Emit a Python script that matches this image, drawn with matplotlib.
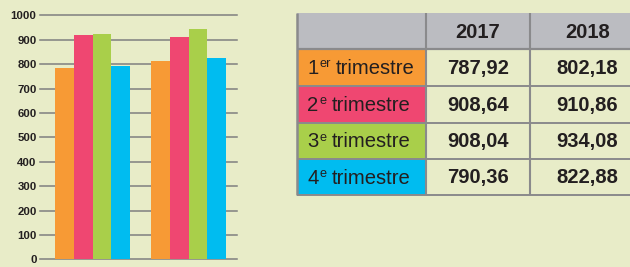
import matplotlib
matplotlib.use("Agg")
import matplotlib.pyplot as plt
from matplotlib.patches import Rectangle
import numpy as np

# ---- data ----
years = ['2017', '2018']
quarter_num = ['1', '2', '3', '4']
quarter_sup = ['er', 'e', 'e', 'e']
quarter_word = 'trimestre'
bars_2017 = [784, 919, 923, 792]
bars_2018 = [813, 911, 944, 825]
table_2017 = ['787,92', '908,64', '908,04', '790,36']
table_2018 = ['802,18', '910,86', '934,08', '822,88']
yticks = [0, 100, 200, 300, 400, 500, 600, 700, 800, 900, 1000]
colors = ['#f79a35', '#ef4771', '#a9cf4a', '#00bcf0']

BG = '#e8ecc8'
GRID = '#7f7f80'
TXT = '#231f20'
W, H = 630, 267

plt.rcParams['font.family'] = ['Liberation Sans', 'DejaVu Sans']
fig = plt.figure(figsize=(W / 100, H / 100), dpi=100, facecolor=BG)

# ---- bar chart ----
x0, x1 = 40, 237
ytop, ybot = 15.3, 259.3
ax = fig.add_axes([x0 / W, 1 - ybot / H, (x1 - x0) / W, (ybot - ytop) / H])
ax.set_facecolor(BG)
ax.set_xlim((x0 - 92.5) / 96, (x1 - 92.5) / 96)
ax.set_ylim(0, 1000)
for s in ax.spines.values():
    s.set_visible(False)
for t in yticks:
    ax.axhline(t, color=GRID, lw=1.1, zorder=1, clip_on=False)
groups = np.arange(len(years))
bw = 0.195
series = np.array([bars_2017, bars_2018])
for i in range(len(quarter_num)):
    ax.bar(groups + (i - 1.5) * bw, series[:, i], width=bw, color=colors[i],
           zorder=2, linewidth=0)
ax.set_xticks([])
ax.set_yticks(yticks)
ax.set_yticklabels([str(t) for t in yticks], fontsize=8.2, fontweight='bold', color=TXT)
ax.tick_params(axis='y', length=0, pad=2.5)

# ---- table ----
tx = fig.add_axes([0, 0, 1, 1])
tx.set_xlim(0, W)
tx.set_ylim(H, 0)
tx.axis('off')
tx.patch.set_alpha(0)

cols = [297, 426, 530, 645]
rows = [13.3, 48.7, 86, 122.5, 159, 195]
BORDER = '#8a8a8c'
HEAD = '#bbbcc1'

for c in range(3):
    tx.add_patch(Rectangle((cols[c], rows[0]), cols[c + 1] - cols[c], rows[1] - rows[0],
                           facecolor=HEAD, edgecolor='none'))
for c, y in enumerate(years):
    tx.text((cols[c + 1] + cols[c + 2]) / 2, (rows[0] + rows[1]) / 2 + 1, y,
            ha='center', va='center', fontsize=14.5, fontweight='bold', color=TXT)

renderer = fig.canvas.get_renderer()
inv = tx.transData.inverted()


def right_edge(t):
    bb = t.get_window_extent(renderer)
    return inv.transform((bb.x1, bb.y0))[0]


for r in range(4):
    yt, yb = rows[r + 1], rows[r + 2]
    tx.add_patch(Rectangle((cols[0], yt), cols[1] - cols[0], yb - yt,
                           facecolor=colors[r], edgecolor='none'))
    base = (yt + yb) / 2 + 6.5
    xs = 307.5
    t1 = tx.text(xs, base, quarter_num[r], ha='left', va='baseline',
                 fontsize=14.6, color=TXT)
    xe = right_edge(t1)
    t2 = tx.text(xe + 0.8, base - 6.5, quarter_sup[r], ha='left', va='baseline',
                 fontsize=9.2, color=TXT)
    xe2 = right_edge(t2)
    tx.text(xe2 + 5.0, base, quarter_word, ha='left', va='baseline',
            fontsize=14.6, color=TXT)
    for c, val in enumerate([table_2017[r], table_2018[r]]):
        tx.text((cols[c + 1] + cols[c + 2]) / 2, (yt + yb) / 2 + 1, val,
                ha='center', va='center', fontsize=14.5, fontweight='bold', color=TXT)

for c in cols[:3]:
    tx.plot([c, c], [rows[0], rows[-1]], color=BORDER, lw=1.5 if c != cols[0] else 1.8,
            solid_capstyle='butt')
for r in rows[1:]:
    tx.plot([cols[0], W], [r, r], color=BORDER, lw=1.4 if r != rows[1] else 1.6,
            solid_capstyle='butt')

fig.savefig('out.png', dpi=100, facecolor=BG)
